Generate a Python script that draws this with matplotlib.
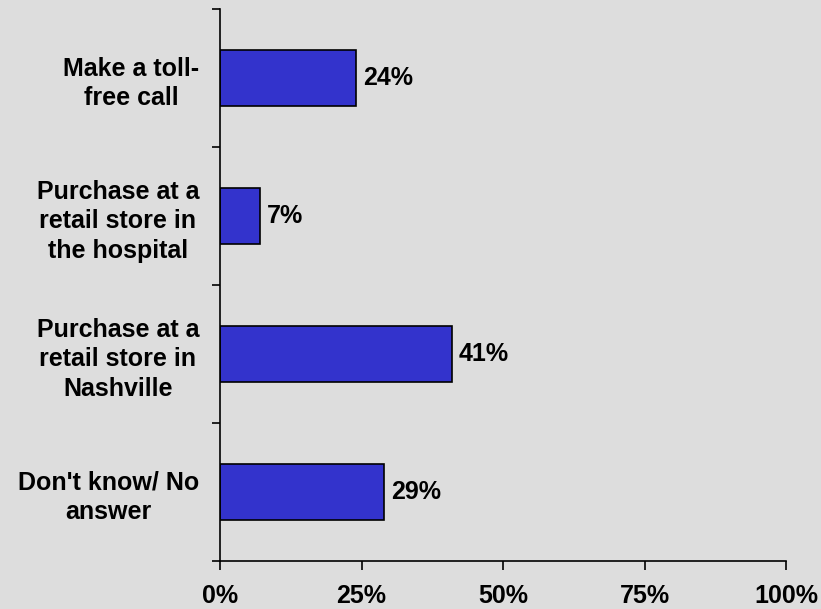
import matplotlib.pyplot as plt
import numpy as np

categories = ["Make a toll-\nfree call",
              "Purchase at a\nretail store in\nthe hospital",
              "Purchase at a\nretail store in\nNashville",
              "Don't know/ No\nanswer"]
values = [24, 7, 41, 29]
xticks = [0, 25, 50, 75, 100]
xtick_labels = ["0%", "25%", "50%", "75%", "100%"]

plt.rcParams['font.family'] = ['Liberation Sans', 'DejaVu Sans']
plt.rcParams['font.weight'] = 'bold'

bg = '#dddddd'
fs = 18
fig = plt.figure(figsize=(8.21, 6.09), dpi=100, facecolor=bg)
ax = fig.add_axes([220/821, 48/609, 566/821, 552/609])
ax.set_facecolor(bg)

pos = np.arange(len(categories))
ax.barh(pos, values, height=0.41, color='#3333cc', edgecolor='black', linewidth=1.2)

# value labels just past the end of each bar
for p, v in zip(pos, values):
    ax.text(v + 1.2, p, f"{v}%", va='center', ha='left', fontsize=fs, fontweight='bold')

ax.set_xlim(0, 100)
ax.set_ylim(len(categories) - 0.5, -0.5)

ax.set_xticks(xticks)
ax.set_xticklabels(xtick_labels, fontsize=fs, fontweight='bold')
ax.set_yticks(pos)
ax.set_yticklabels(categories, fontsize=fs, fontweight='bold',
                   multialignment='center', linespacing=1.3)
ax.set_yticks(np.arange(len(categories) + 1) - 0.5, minor=True)

ax.tick_params(axis='y', which='major', length=0, pad=15)
ax.tick_params(axis='y', which='minor', direction='out', length=6, width=1.2)
ax.tick_params(axis='x', direction='out', length=6.5, width=1.2, pad=10)

for side in ['top', 'right']:
    ax.spines[side].set_visible(False)
for side in ['left', 'bottom']:
    ax.spines[side].set_linewidth(1.2)

fig.savefig('out.png', dpi=100, facecolor=bg)
